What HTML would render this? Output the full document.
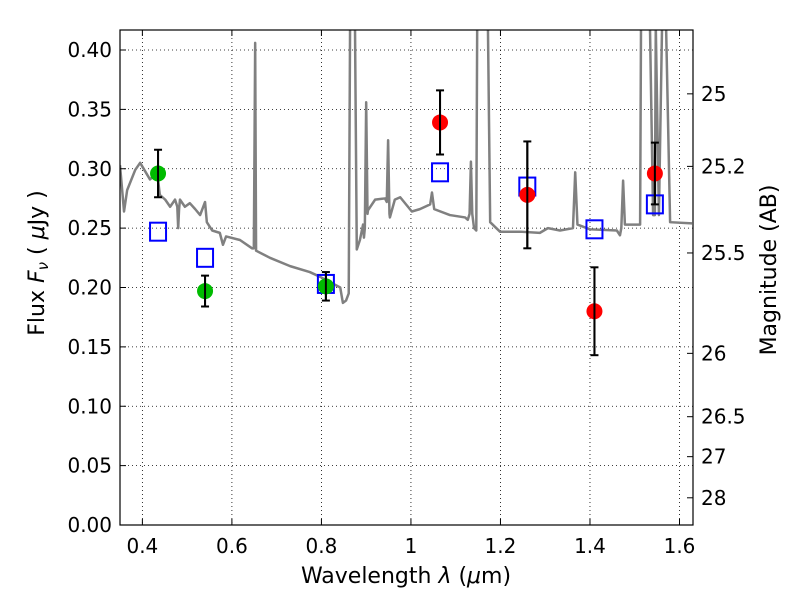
<!DOCTYPE html>
<html><head><meta charset="utf-8"><style>
body{margin:0;background:#fff}
text{font-family:"DejaVu Sans","Liberation Sans",sans-serif;fill:#000}
</style></head><body>
<svg id="chart" width="800" height="600" viewBox="0 0 800 600" xmlns="http://www.w3.org/2000/svg">
<rect width="800" height="600" fill="#fff"/>
<defs><clipPath id="pc"><rect x="120" y="30" width="573" height="495"/></clipPath></defs>
<g id="grid"></g>
<g id="spec" clip-path="url(#pc)"></g>
<g id="marks" clip-path="url(#pc)"></g>
<rect x="120" y="30" width="573" height="495" fill="none" stroke="#000" stroke-width="1.2"/>
<g id="axes"></g>
<text x="406" y="583" font-size="22" text-anchor="middle">Wavelength  <tspan font-style="italic">λ</tspan> (<tspan font-style="italic">μ</tspan>m)</text>
<text transform="translate(44,263) rotate(-90)" font-size="22" text-anchor="middle">Flux  <tspan font-style="italic">F</tspan><tspan font-style="italic" font-size="15" dy="4">ν</tspan><tspan dy="-4">  ( </tspan><tspan font-style="italic">μ</tspan>Jy )</text>
<text transform="translate(776,270) rotate(-90)" font-size="22" text-anchor="middle">Magnitude (AB)</text>
</svg>
<script>
const xTicks=[0.4,0.6,0.8,1.0,1.2,1.4,1.6];
const xTickLabels=["0.4","0.6","0.8","1","1.2","1.4","1.6"];
const yTicks=[0,0.05,0.1,0.15,0.2,0.25,0.3,0.35,0.4];
const yTickLabels=["0.00","0.05","0.10","0.15","0.20","0.25","0.30","0.35","0.40"];
const magTicks=[25,25.2,25.5,26,26.5,27,28];
const magTickLabels=["25","25.2","25.5","26","26.5","27","28"];
const bandWave=[0.435,0.54,0.81,1.065,1.26,1.41,1.545];
const modelFlux=[0.247,0.225,0.203,0.297,0.285,0.249,0.270];
const greenWave=[0.435,0.54,0.81];
const greenFlux=[0.296,0.197,0.201];
const greenErr=[0.020,0.013,0.012];
const redWave=[1.065,1.26,1.41,1.545];
const redFlux=[0.339,0.278,0.180,0.296];
const redErr=[0.027,0.045,0.037,0.026];
const specWave=[0.350,0.359,0.366,0.384,0.395,0.417,0.433,0.439,0.451,0.462,0.473,0.478,0.480,0.482,0.484,0.495,0.506,0.518,0.529,0.540,0.544,0.556,0.573,0.580,0.587,0.618,0.645,0.649,0.652,0.654,0.685,0.730,0.774,0.797,0.842,0.848,0.855,0.861,0.864,0.875,0.879,0.886,0.893,0.895,0.897,0.900,0.903,0.904,0.920,0.942,0.946,0.949,0.952,0.953,0.964,0.976];
const specFlux=[0.303,0.264,0.282,0.299,0.305,0.291,0.297,0.278,0.274,0.268,0.274,0.268,0.250,0.266,0.274,0.268,0.271,0.266,0.261,0.272,0.255,0.248,0.246,0.236,0.243,0.240,0.233,0.233,0.406,0.231,0.225,0.218,0.213,0.209,0.200,0.187,0.189,0.195,0.42,0.42,0.232,0.240,0.253,0.242,0.250,0.356,0.262,0.265,0.274,0.275,0.272,0.324,0.262,0.259,0.274,0.276];
const specWave2=[1.002,1.020,1.043,1.047,1.052,1.087,1.121,1.127,1.131,1.134,1.137,1.141,1.146,1.148,1.172,1.177,1.199,1.244,1.288,1.306,1.333,1.362,1.367,1.372,1.400,1.460,1.467,1.470,1.474,1.478,1.512,1.514,1.534,1.541,1.545,1.547,1.554,1.561,1.570,1.579,1.628];
const specFlux2=[0.264,0.266,0.270,0.280,0.266,0.261,0.259,0.257,0.262,0.306,0.262,0.250,0.248,0.42,0.42,0.255,0.247,0.247,0.246,0.250,0.248,0.250,0.297,0.253,0.249,0.248,0.244,0.250,0.290,0.253,0.253,0.42,0.42,0.261,0.261,0.42,0.261,0.42,0.42,0.255,0.254];
const X=l=>120+(l-0.35)*447.6, Y=f=>525-f*1187.5, M=m=>Y(Math.pow(10,(23.9-m)/2.5));
const ns="http://www.w3.org/2000/svg";
function mk(p,t,a){const e=document.createElementNS(ns,t);for(const k in a)e.setAttribute(k,a[k]);p.appendChild(e);return e;}
const grid=document.getElementById('grid'),axes=document.getElementById('axes');
xTicks.forEach((v,i)=>{
 const l=mk(grid,'line',{x1:X(v),x2:X(v),y1:30,y2:525,stroke:'#000','stroke-width':0.8,'stroke-dasharray':'1,3'});
 
 
 mk(axes,'line',{x1:X(v),x2:X(v),y1:525,y2:519,stroke:'#000'});
 mk(axes,'line',{x1:X(v),x2:X(v),y1:30,y2:36,stroke:'#000'});
 const t=mk(axes,'text',{x:X(v),y:553,'font-size':20,'text-anchor':'middle'});t.textContent=xTickLabels[i];
 
 
});
yTicks.forEach((v,i)=>{
 const l=mk(grid,'line',{x1:120,x2:693,y1:Y(v),y2:Y(v),stroke:'#000','stroke-width':0.8,'stroke-dasharray':'1,3'});
 
 
 mk(axes,'line',{x1:120,x2:126,y1:Y(v),y2:Y(v),stroke:'#000'});
 const t=mk(axes,'text',{x:112,y:Y(v)+7,'font-size':20,'text-anchor':'end'});t.textContent=yTickLabels[i];
 
 
});
magTicks.forEach((v,i)=>{
 mk(axes,'line',{x1:687,x2:693,y1:M(v),y2:M(v),stroke:'#000'});
 const t=mk(axes,'text',{x:701,y:M(v)+7,'font-size':20});t.textContent=magTickLabels[i];
 
 
});
const spec=document.getElementById('spec');
const w=specWave.concat(specWave2),f=specFlux.concat(specFlux2);
const sp=mk(spec,'polyline',{points:w.map((l,i)=>X(l)+','+Y(f[i])).join(' '),fill:'none',stroke:'#808080','stroke-width':2.5,'stroke-linejoin':'round'});


const marks=document.getElementById('marks');
bandWave.forEach((l,i)=>{
 const r=mk(marks,'rect',{x:X(l)-8,y:Y(modelFlux[i])-9,width:16,height:18,fill:'none',stroke:'#0000ff','stroke-width':2});
 
 
});
function pts(ws,fs,es,col,name){ws.forEach((l,i)=>{
 const x=X(l),y1=Y(fs[i]+es[i]),y2=Y(fs[i]-es[i]);
 mk(marks,'line',{x1:x,x2:x,y1:y1,y2:y2,stroke:'#000','stroke-width':2});
 mk(marks,'line',{x1:x-4,x2:x+4,y1:y1,y2:y1,stroke:'#000','stroke-width':2});
 mk(marks,'line',{x1:x-4,x2:x+4,y1:y2,y2:y2,stroke:'#000','stroke-width':2});
 const c=mk(marks,'circle',{cx:x,cy:Y(fs[i]),r:8,fill:col});
 
 
 mk(marks,'line',{x1:x,x2:x,y1:y1,y2:y2,stroke:'#000','stroke-width':2});
});}
pts(greenWave,greenFlux,greenErr,'#00bb00','observed-flux-green');
pts(redWave,redFlux,redErr,'#ff0000','observed-flux-red');
</script>
</body></html>
